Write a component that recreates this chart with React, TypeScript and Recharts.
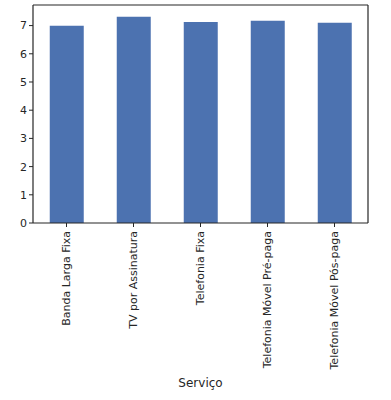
import { BarChart, Bar, XAxis, YAxis } from "recharts";

const services = [
  "Banda Larga Fixa",
  "TV por Assinatura",
  "Telefonia Fixa",
  "Telefonia Móvel Pré-paga",
  "Telefonia Móvel Pós-paga",
];
const scores = [6.99, 7.31, 7.13, 7.17, 7.1];
const yTicks = [0, 1, 2, 3, 4, 5, 6, 7];

const data = services.map((s, i) => ({ servico: s, nota: scores[i] }));

const ink = "#262626";
const font = "DejaVu Sans, sans-serif";

function RotatedTick(props: any) {
  const { x, y, payload } = props;
  return (
    <text
      x={x}
      y={y}
      transform={`rotate(-90, ${x}, ${y})`}
      textAnchor="end"
      dy="0.35em"
      fontSize={11}
      fontFamily={font}
      fill={ink}
    >
      {payload.value}
    </text>
  );
}

export default function App() {
  return (
    <div style={{ position: "absolute", left: 0, top: 0, background: "#fff" }}>
      <BarChart
        width={391}
        height={400}
        data={data}
        margin={{ top: 4, right: 22, bottom: 0, left: 0 }}
        barCategoryGap="25%"
      >
        <XAxis
          xAxisId="top"
          orientation="top"
          dataKey="servico"
          height={1}
          tick={false}
          tickLine={false}
          axisLine={{ stroke: ink, strokeWidth: 1.2 }}
        />
        <YAxis
          yAxisId="right"
          orientation="right"
          width={1}
          tick={false}
          tickLine={false}
          domain={[0, 7.73]}
          axisLine={{ stroke: ink, strokeWidth: 1.2 }}
        />
        <XAxis
          dataKey="servico"
          interval={0}
          height={177}
          tick={<RotatedTick />}
          tickSize={4}
          tickMargin={4}
          tickLine={{ stroke: ink }}
          axisLine={{ stroke: ink, strokeWidth: 1.2 }}
          label={{
            value: "Serviço",
            position: "insideBottom",
            offset: 13,
            fontSize: 12,
            fontFamily: font,
            fill: ink,
          }}
        />
        <YAxis
          width={33}
          domain={[0, 7.73]}
          ticks={yTicks}
          tickSize={4}
          tickMargin={2}
          tickLine={{ stroke: ink }}
          axisLine={{ stroke: ink, strokeWidth: 1.2 }}
          tick={{ fontSize: 11, fontFamily: font, fill: ink }}
        />
        <Bar dataKey="nota" fill="#4C72B0" isAnimationActive={false} />
      </BarChart>
    </div>
  );
}
